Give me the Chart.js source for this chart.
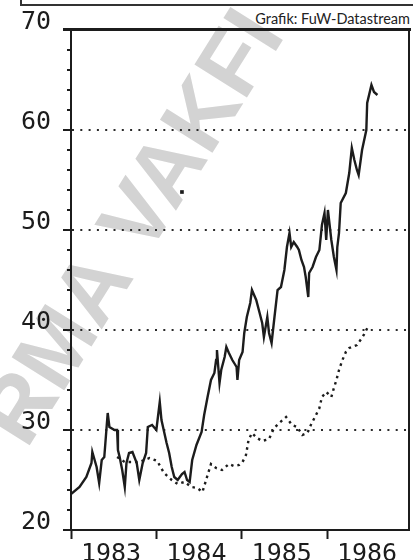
<!DOCTYPE html>
<html>
<head>
<meta charset="utf-8">
<script src="https://cdn.jsdelivr.net/npm/chart.js@4/dist/chart.umd.min.js"></script>
<style>
  html, body { margin: 0; padding: 0; background: #fff; }
  #wrap { position: relative; width: 413px; height: 560px; overflow: hidden; background: #fff; }
  #wm { position: absolute; left: -38px; top: 410px; transform-origin: 0 0; transform: rotate(-58deg);
        font: bold 90px "Liberation Sans", Arial, sans-serif; color: #d3d3d3; white-space: nowrap; line-height: 1; }
  #topbox { position: absolute; left: 20px; top: -2px; width: 400px; height: 6px; border-left: 2px solid #333; border-bottom: 2px solid #333; }
  #credit { position: absolute; right: 3px; top: 10px; font: 14.5px Lato, "Open Sans", sans-serif; color: #222; }
  #frametop { position: absolute; left: 63px; top: 28px; width: 348px; height: 3px; background: #1c1c1c; }
  canvas { position: absolute; left: 0; top: 0; }
</style>
</head>
<body>
<div id="wrap">
  <div id="wm">RMA VAKFI</div>
  <div id="topbox"></div>
  <div id="credit">Grafik: FuW-Datastream</div>
  <canvas id="c" width="413" height="560"></canvas>
  <div id="frametop"></div>
</div>
<script>
// Year ticks (x axis) and value ticks (y axis)
const yearTicks = [1983, 1984, 1985, 1986];
const yMajorTicks = [20, 30, 40, 50, 60, 70];

// Solid series (decimal year, value)
const solidYears = [1983.00,1983.10,1983.18,1983.24,1983.25,1983.30,1983.33,1983.36,1983.39,1983.43,1983.45,1983.51,1983.54,1983.55,1983.57,1983.60,1983.63,1983.65,1983.68,1983.72,1983.77,1983.80,1983.84,1983.88,1983.90,1983.95,1984.00,1984.04,1984.06,1984.12,1984.15,1984.18,1984.21,1984.25,1984.30,1984.33,1984.36,1984.39,1984.42,1984.47,1984.53,1984.56,1984.60,1984.64,1984.68,1984.70,1984.71,1984.74,1984.76,1984.80,1984.82,1984.85,1984.89,1984.94,1984.95,1984.97,1985.01,1985.03,1985.06,1985.10,1985.12,1985.17,1985.21,1985.24,1985.26,1985.30,1985.32,1985.35,1985.38,1985.42,1985.46,1985.50,1985.53,1985.56,1985.58,1985.61,1985.65,1985.67,1985.70,1985.73,1985.75,1985.78,1985.79,1985.83,1985.87,1985.91,1985.94,1985.97,1985.99,1986.01,1986.05,1986.08,1986.11,1986.12,1986.14,1986.16,1986.22,1986.26,1986.29,1986.32,1986.35,1986.37,1986.41,1986.46,1986.47,1986.52,1986.55,1986.59];
const solidValues = [23.6,24.3,25.3,26.7,27.8,26.3,24.7,27.0,27.3,31.7,30.3,30.0,30.0,28.0,27.3,26.0,24.3,26.7,27.7,27.8,26.7,25.0,26.7,27.7,30.3,30.5,30.0,32.8,31.0,28.7,27.7,26.3,25.3,25.0,25.6,25.8,25.0,24.8,27.0,28.5,29.8,31.5,33.3,35.0,35.7,37.0,38.0,34.7,36.0,37.3,38.3,37.7,37.0,36.3,35.0,37.0,37.8,39.7,41.3,42.7,44.0,43.0,41.7,40.7,39.3,41.3,39.7,38.7,41.0,44.0,44.3,46.0,48.3,49.7,48.3,48.8,48.3,48.0,47.0,46.3,45.3,43.3,45.7,46.3,47.3,48.0,50.5,51.7,49.0,52.0,49.0,47.3,46.0,48.3,49.7,52.7,53.7,55.7,58.2,57.0,56.0,55.5,58.0,60.0,62.7,64.5,63.8,63.5];

// Dotted series (decimal year, value)
const dottedYears = [1983.54,1983.63,1983.80,1983.92,1984.01,1984.09,1984.18,1984.25,1984.33,1984.41,1984.48,1984.54,1984.59,1984.64,1984.70,1984.77,1984.85,1984.91,1984.97,1985.01,1985.05,1985.08,1985.12,1985.18,1985.24,1985.32,1985.38,1985.44,1985.52,1985.59,1985.65,1985.71,1985.77,1985.81,1985.87,1985.91,1985.94,1985.99,1986.05,1986.08,1986.11,1986.14,1986.18,1986.22,1986.26,1986.32,1986.35,1986.40,1986.43,1986.49];
const dottedValues = [27.3,26.8,26.8,27.2,26.9,25.7,25.0,24.6,24.8,24.3,24.2,23.8,25.2,26.6,26.2,26.0,26.6,26.4,26.5,26.8,27.5,29.0,29.7,29.2,28.9,29.1,30.2,30.7,31.3,30.5,30.3,29.5,29.7,30.5,31.5,32.2,33.3,33.8,33.3,34.2,35.0,36.0,37.0,37.8,38.2,38.4,38.5,39.1,39.5,40.5];

// Single stray mark
const markYears = [1984.30];
const markValues = [53.8];

const toXY = (xs, ys) => xs.map((x, i) => ({ x: x, y: ys[i] }));
const ink = '#1c1c1c';
const monoFont = { family: '"DejaVu Sans Mono", monospace', size: 25 };

new Chart(document.getElementById('c'), {
  type: 'line',
  data: {
    datasets: [
      { label: 'solid', data: toXY(solidYears, solidValues), borderColor: ink, borderWidth: 2.4, pointRadius: 0, tension: 0 },
      { label: 'dotted', data: toXY(dottedYears, dottedValues), borderColor: ink, borderWidth: 2.4, borderDash: [2.5, 4], pointRadius: 0, tension: 0 },
      { label: 'mark', data: toXY(markYears, markValues), showLine: false, pointStyle: 'rect', pointRadius: 2.6, backgroundColor: ink, borderColor: ink, borderWidth: 0 }
    ]
  },
  options: {
    responsive: false,
    animation: false,
    layout: { padding: { top: 30, left: 0, right: 0, bottom: 0 } },
    plugins: { legend: { display: false }, tooltip: { enabled: false } },
    scales: {
      x: {
        type: 'linear', position: 'bottom', min: 1983, max: 1986.96,
        afterBuildTicks: s => { s.ticks = yearTicks.map(v => ({ value: v })); },
        afterFit: s => { s.height = 30; },
        ticks: { autoSkip: false, maxRotation: 0, labelOffset: 40, padding: 0, color: ink, font: monoFont, callback: v => String(v) },
        grid: { drawOnChartArea: false, tickLength: 9, tickWidth: 2, tickColor: ink },
        border: { display: true, color: ink, width: 2 }
      },
      y: {
        type: 'linear', position: 'left', min: 20, max: 70,
        afterBuildTicks: s => { const t = []; for (let v = 20; v <= 70; v += 2) t.push({ value: v }); s.ticks = t; },
        afterFit: s => { s.width = 71; },
        ticks: { autoSkip: false, labelOffset: -8, padding: 12, color: ink, font: monoFont,
                 callback: v => yMajorTicks.includes(v) ? String(v) : '' },
        grid: {
          color: c => (c.tick && [30,40,50,60].includes(c.tick.value)) ? '#2a2a2a' : 'rgba(0,0,0,0)',
          lineWidth: 2,
          tickLength: 8, tickWidth: 2, tickColor: ink,
          tickBorderDash: c => (c.tick && c.tick.value % 10 === 0) ? [] : [0, 4, 4, 100]
        },
        border: { display: true, color: ink, width: 2,
                  dash: c => (c.tick && [30,40,50,60].includes(c.tick.value)) ? [2, 6.3] : [] }
      },
      yr: {
        type: 'linear', position: 'right', min: 20, max: 70,
        afterFit: s => { s.width = 3; },
        ticks: { display: false },
        grid: { display: false, drawTicks: false },
        border: { display: true, color: ink, width: 2 }
      }
    }
  }
});
</script>
</body>
</html>
